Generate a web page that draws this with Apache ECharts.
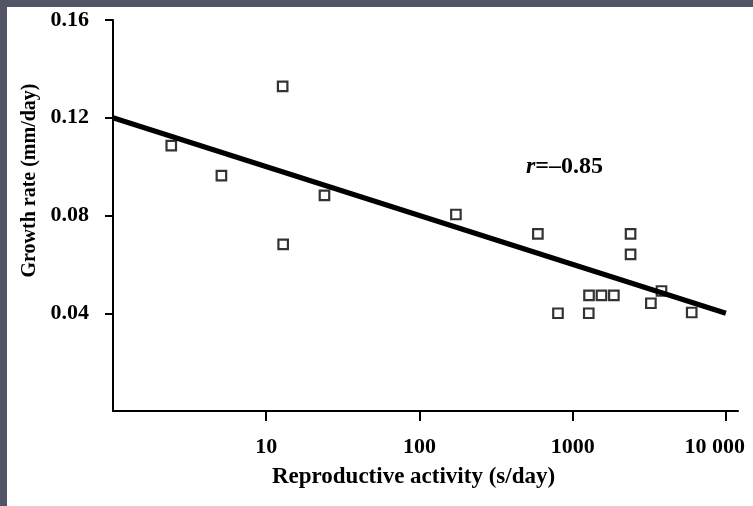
<!DOCTYPE html>
<html>
<head>
<meta charset="utf-8">
<script src="https://cdn.jsdelivr.net/npm/echarts@6/dist/echarts.min.js"></script>
<style>
  html, body { margin: 0; padding: 0; width: 753px; height: 506px; background: #525566; overflow: hidden; }
  #chart { position: absolute; left: 7px; top: 7px; width: 746px; height: 499px; background: #ffffff; }
</style>
</head>
<body>
<div id="chart"></div>
<script>
// Reproductive activity (s/day) and growth rate (mm/day) per individual
const activity = [2.4, 5.1, 12.8, 12.9, 24, 173, 593, 802, 1274, 1279, 1542, 1858, 2388, 2388, 3240, 3800, 5985];
const growth   = [0.1086, 0.0963, 0.1328, 0.0682, 0.0882, 0.0804, 0.0725, 0.0400, 0.0400, 0.0473, 0.0473, 0.0473, 0.0725, 0.0641, 0.0441, 0.0491, 0.0403];
// Regression line endpoints
const fitX = [1, 10000];
const fitY = [0.12, 0.04];
// Tick labels
const xTicks = [10, 100, 1000, 10000];
const yTicks = [0.04, 0.08, 0.12, 0.16];
const annotation = 'r=–0.85';

const font = 'Liberation Serif';
const chart = echarts.init(document.getElementById('chart'));
chart.setOption({
  animation: false,
  grid: { left: 106, top: 13, right: 15, bottom: 95 },
  xAxis: {
    type: 'log', logBase: 10, min: 1, max: 12000,
    name: 'Reproductive activity (s/day)', nameLocation: 'middle', nameGap: 55,
    nameTextStyle: { fontFamily: font, fontWeight: 'bold', fontSize: 23, color: '#000', padding: [0, 24, 0, 0] },
    axisLine: { lineStyle: { color: '#000', width: 2 } },
    axisTick: { show: true, length: 10, inside: false, lineStyle: { color: '#000', width: 2 }, customValues: xTicks },
    axisLabel: { customValues: xTicks, margin: 25, fontFamily: font, fontWeight: 'bold', fontSize: 22, color: '#000',
      formatter: v => { const r = Math.round(v); return r === 10000 ? '{r|10 000}' : String(r); },
      rich: { r: { fontFamily: font, fontWeight: 'bold', fontSize: 22, color: '#000', padding: [0, 22, 0, 0] } } },
    splitLine: { show: false }, minorTick: { show: false }
  },
  yAxis: {
    type: 'value', min: 0, max: 0.16, interval: 0.04,
    name: 'Growth rate (mm/day)', nameLocation: 'middle', nameGap: 72,
    nameTextStyle: { fontFamily: font, fontWeight: 'bold', fontSize: 20, color: '#000', padding: [0, 0, 0, 70] },
    axisLine: { show: true, lineStyle: { color: '#000', width: 2 } },
    axisTick: { show: true, length: 8, inside: false, lineStyle: { color: '#000', width: 2 }, customValues: yTicks },
    axisLabel: { customValues: yTicks, margin: 24, fontFamily: font, fontWeight: 'bold', fontSize: 22, color: '#000',
      formatter: v => v.toFixed(2) },
    splitLine: { show: false }
  },
  graphic: [{
    type: 'text', left: 519, top: 148, z: 10,
    style: {
      text: '{i|r}{b|' + annotation.slice(1) + '}',
      rich: {
        i: { fontFamily: font, fontStyle: 'italic', fontWeight: 'bold', fontSize: 24, fill: '#000' },
        b: { fontFamily: font, fontWeight: 'bold', fontSize: 24, fill: '#000' }
      }
    }
  }],
  series: [
    {
      type: 'scatter', z: 2,
      data: activity.map((x, i) => [x, growth[i]]),
      symbol: 'rect', symbolSize: 9.5,
      itemStyle: { color: '#fff', borderColor: '#000', borderWidth: 2.2 }
    },
    {
      type: 'line', z: 3,
      data: fitX.map((x, i) => [x, fitY[i]]),
      symbol: 'none',
      lineStyle: { color: '#000', width: 5 }
    }
  ]
});
</script>
</body>
</html>
